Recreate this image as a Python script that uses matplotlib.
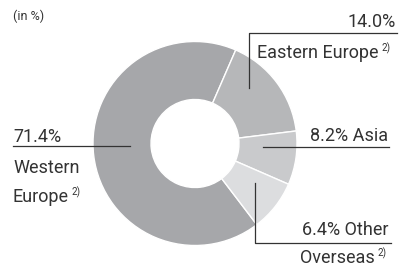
import matplotlib
matplotlib.use('Agg')
from matplotlib import pyplot as plt

# Daten (Anteile wie gezeichnet, Beschriftung wie gedruckt)
regions = ['Western Europe', 'Eastern Europe', 'Asia', 'Other Overseas']
shares = [66.9, 16.5, 8.5, 8.1]
labels_pct = ['71.4%', '14.0%', '8.2%', '6.4%']
colors = ['#a6a7aa', '#b6b7b9', '#c9cacc', '#dcdddf']

txt_col = '#333333'
fs = 13
plt.rcParams['font.family'] = ['Roboto', 'DejaVu Sans']

fig = plt.figure(figsize=(3.99, 2.66), dpi=100)
ax = fig.add_axes([0, 0, 1, 1])

# Donut
ax.pie(shares, colors=colors, startangle=-52.7, counterclock=False,
       center=(195, 122.5), radius=102,
       wedgeprops=dict(width=58, edgecolor='white', linewidth=1))
ax.set_xlim(0, 399)
ax.set_ylim(0, 266)
ax.set_aspect('equal')
ax.axis('off')


def sup(t):
    # hochgestellte Fussnote hinter dem Text
    ax.annotate('2)', xy=(1, 0), xycoords=t, xytext=(2, 7.5),
                textcoords='offset points', fontsize=7, color=txt_col)


ax.text(13, 246, '(in %)', fontsize=9, color=txt_col)

# Eastern Europe
ax.text(396, 239, labels_pct[1], ha='right', fontsize=fs, color=txt_col)
t = ax.text(257, 208, 'Eastern Europe', fontsize=fs, color=txt_col)
sup(t)
ax.plot([249, 249, 397], [178, 233, 233], color=txt_col, lw=0.9)

# Asia
ax.text(388, 125, labels_pct[2] + ' ' + regions[2], ha='right', fontsize=fs, color=txt_col)
ax.plot([263, 389], [119, 119], color=txt_col, lw=0.9)

# Other Overseas
ax.text(389, 31, labels_pct[3] + ' Other', ha='right', fontsize=fs, color=txt_col)
t = ax.text(375, 3, 'Overseas', ha='right', fontsize=fs, color=txt_col)
sup(t)
ax.plot([255, 255, 391], [83, 23, 23], color=txt_col, lw=0.9)

# Western Europe
ax.text(13, 124, labels_pct[0], fontsize=fs, color=txt_col)
ax.plot([13, 130], [120, 120], color=txt_col, lw=0.9)
ax.text(13, 93, 'Western', fontsize=fs, color=txt_col)
t = ax.text(13, 64, 'Europe', fontsize=fs, color=txt_col)
sup(t)

plt.savefig('out.png', dpi=100)
